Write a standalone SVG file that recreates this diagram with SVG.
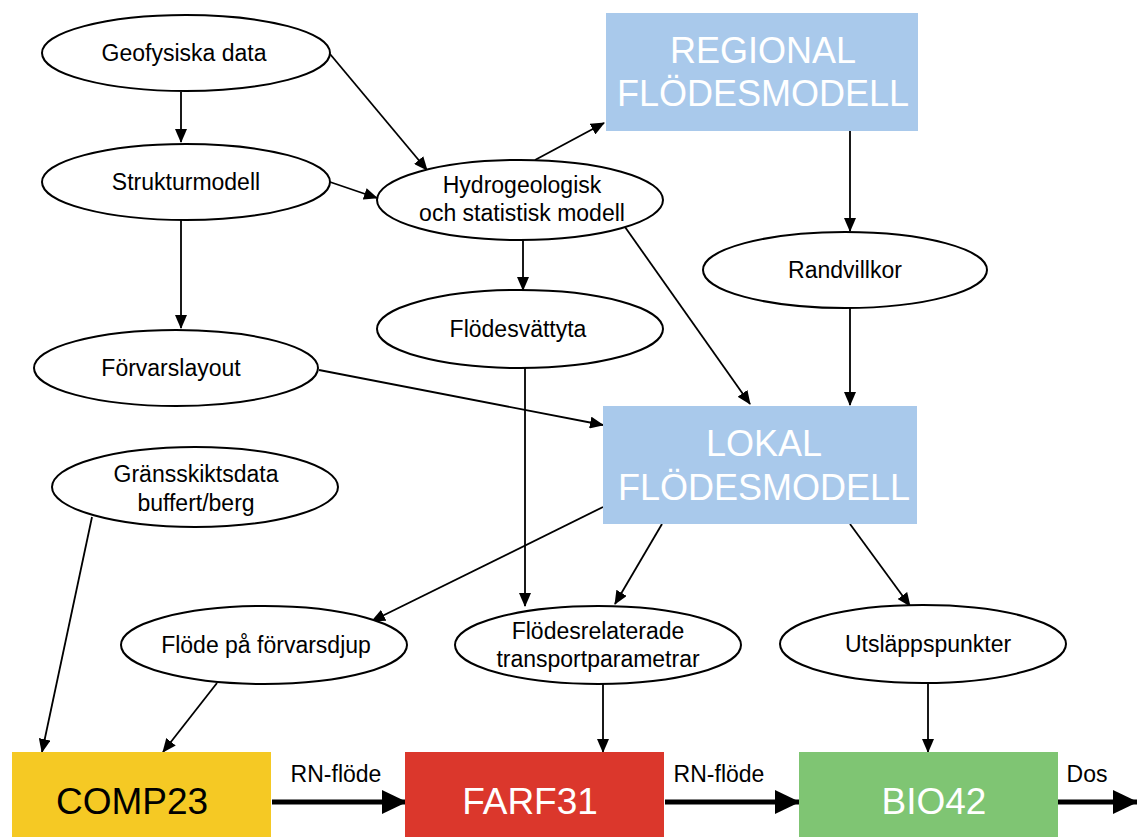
<svg xmlns="http://www.w3.org/2000/svg" width="1137" height="837" viewBox="0 0 1137 837">
<defs>
<marker id="ah" markerUnits="userSpaceOnUse" markerWidth="14" markerHeight="12" refX="13" refY="6" orient="auto">
<path d="M0,0 L14,6 L0,12 z" fill="#000"/>
</marker>
<marker id="ahb" markerUnits="userSpaceOnUse" markerWidth="25" markerHeight="24" refX="24" refY="12" orient="auto">
<path d="M0,0 L25,12 L0,24 z" fill="#000"/>
</marker>
<style>
.el{fill:#fff;stroke:#000;stroke-width:2}
.t{font-family:"Liberation Sans",Arial,sans-serif;font-size:23px;fill:#000;text-anchor:middle}
.big{font-family:"Liberation Sans",Arial,sans-serif;font-size:36px;fill:#fff;text-anchor:middle}
.box{font-family:"Liberation Sans",Arial,sans-serif;font-size:37px;text-anchor:middle}
.lbl{font-family:"Liberation Sans",Arial,sans-serif;font-size:23px;fill:#000;text-anchor:middle}
.c{stroke:#000;stroke-width:1.8;fill:none;marker-end:url(#ah)}
.cb{stroke:#000;stroke-width:5;fill:none;marker-end:url(#ahb)}
</style>
</defs>
<rect width="1137" height="837" fill="#fff"/>
<g id="connectors">
<line class="c" x1="181" y1="92" x2="181" y2="142"/>
<line class="c" x1="330" y1="54" x2="427" y2="170"/>
<line class="c" x1="330" y1="182" x2="377" y2="198"/>
<line class="c" x1="181" y1="220" x2="181" y2="328"/>
<line class="c" x1="535" y1="160" x2="604" y2="123"/>
<line class="c" x1="523" y1="240" x2="523" y2="290"/>
<line class="c" x1="625" y1="227" x2="750" y2="404"/>
<line class="c" x1="850" y1="131" x2="850" y2="231"/>
<line class="c" x1="850" y1="308" x2="850" y2="405"/>
<line class="c" x1="319" y1="370" x2="603" y2="425"/>
<line class="c" x1="525" y1="368" x2="525" y2="606"/>
<line class="c" x1="603" y1="507" x2="372" y2="621"/>
<line class="c" x1="662" y1="524" x2="615" y2="604"/>
<line class="c" x1="850" y1="524" x2="910" y2="606"/>
<line class="c" x1="92" y1="517" x2="42" y2="752"/>
<line class="c" x1="217" y1="683" x2="163" y2="752"/>
<line class="c" x1="603" y1="684" x2="603" y2="752"/>
<line class="c" x1="928" y1="684" x2="928" y2="752"/>
<line class="cb" x1="272" y1="802" x2="406" y2="802"/>
<line class="cb" x1="665" y1="802" x2="799" y2="802"/>
<line class="cb" x1="1058" y1="802" x2="1137" y2="802"/>
<text class="lbl" x="336" y="782">RN-flöde</text>
<text class="lbl" x="719" y="782">RN-flöde</text>
<text class="lbl" x="1087" y="782">Dos</text>
</g>
<g id="geofysiska"><ellipse class="el" cx="186" cy="53" rx="144" ry="38"/><text class="t" x="184" y="61">Geofysiska data</text></g>
<g id="strukturmodell"><ellipse class="el" cx="186" cy="182" rx="144" ry="38"/><text class="t" x="186" y="190">Strukturmodell</text></g>
<g id="hydrogeologisk"><ellipse class="el" cx="520" cy="200" rx="143" ry="40"/><text class="t" x="522" y="193">Hydrogeologisk</text><text class="t" x="522" y="221">och statistisk modell</text></g>
<g id="flodesvattyta"><ellipse class="el" cx="520" cy="329" rx="143" ry="39"/><text class="t" x="518" y="337">Flödesvättyta</text></g>
<g id="randvillkor"><ellipse class="el" cx="845" cy="270" rx="142" ry="38"/><text class="t" x="845" y="278">Randvillkor</text></g>
<g id="forvarslayout"><ellipse class="el" cx="176" cy="368" rx="142" ry="38"/><text class="t" x="171" y="376">Förvarslayout</text></g>
<g id="gransskiktsdata"><ellipse class="el" cx="195" cy="487" rx="143" ry="40"/><text class="t" x="196" y="482">Gränsskiktsdata</text><text class="t" x="196" y="511">buffert/berg</text></g>
<g id="flode-forvarsdjup"><ellipse class="el" cx="264" cy="645" rx="143" ry="39"/><text class="t" x="266" y="653">Flöde på förvarsdjup</text></g>
<g id="flodesrelaterade"><ellipse class="el" cx="598" cy="645" rx="143" ry="39"/><text class="t" x="598" y="639">Flödesrelaterade</text><text class="t" x="598" y="667">transportparametrar</text></g>
<g id="utslappspunkter"><ellipse class="el" cx="923" cy="644" rx="143" ry="39"/><text class="t" x="928" y="652">Utsläppspunkter</text></g>
<g id="regional"><rect x="606" y="13" width="312" height="118" fill="#A9C9EB"/><text class="big" x="763" y="63">REGIONAL</text><text class="big" x="763" y="106">FLÖDESMODELL</text></g>
<g id="lokal"><rect x="603" y="406" width="314" height="118" fill="#A9C9EB"/><text class="big" x="764" y="456">LOKAL</text><text class="big" x="764" y="500">FLÖDESMODELL</text></g>
<g id="comp23"><rect x="12" y="752" width="259" height="90" fill="#F5C924"/><text class="box" x="132" y="814" fill="#000">COMP23</text></g>
<g id="farf31"><rect x="405" y="752" width="259" height="90" fill="#DB372C"/><text class="box" x="530" y="814" fill="#fff">FARF31</text></g>
<g id="bio42"><rect x="799" y="752" width="259" height="90" fill="#7FC573"/><text class="box" x="934" y="814" fill="#fff">BIO42</text></g>
</svg>
